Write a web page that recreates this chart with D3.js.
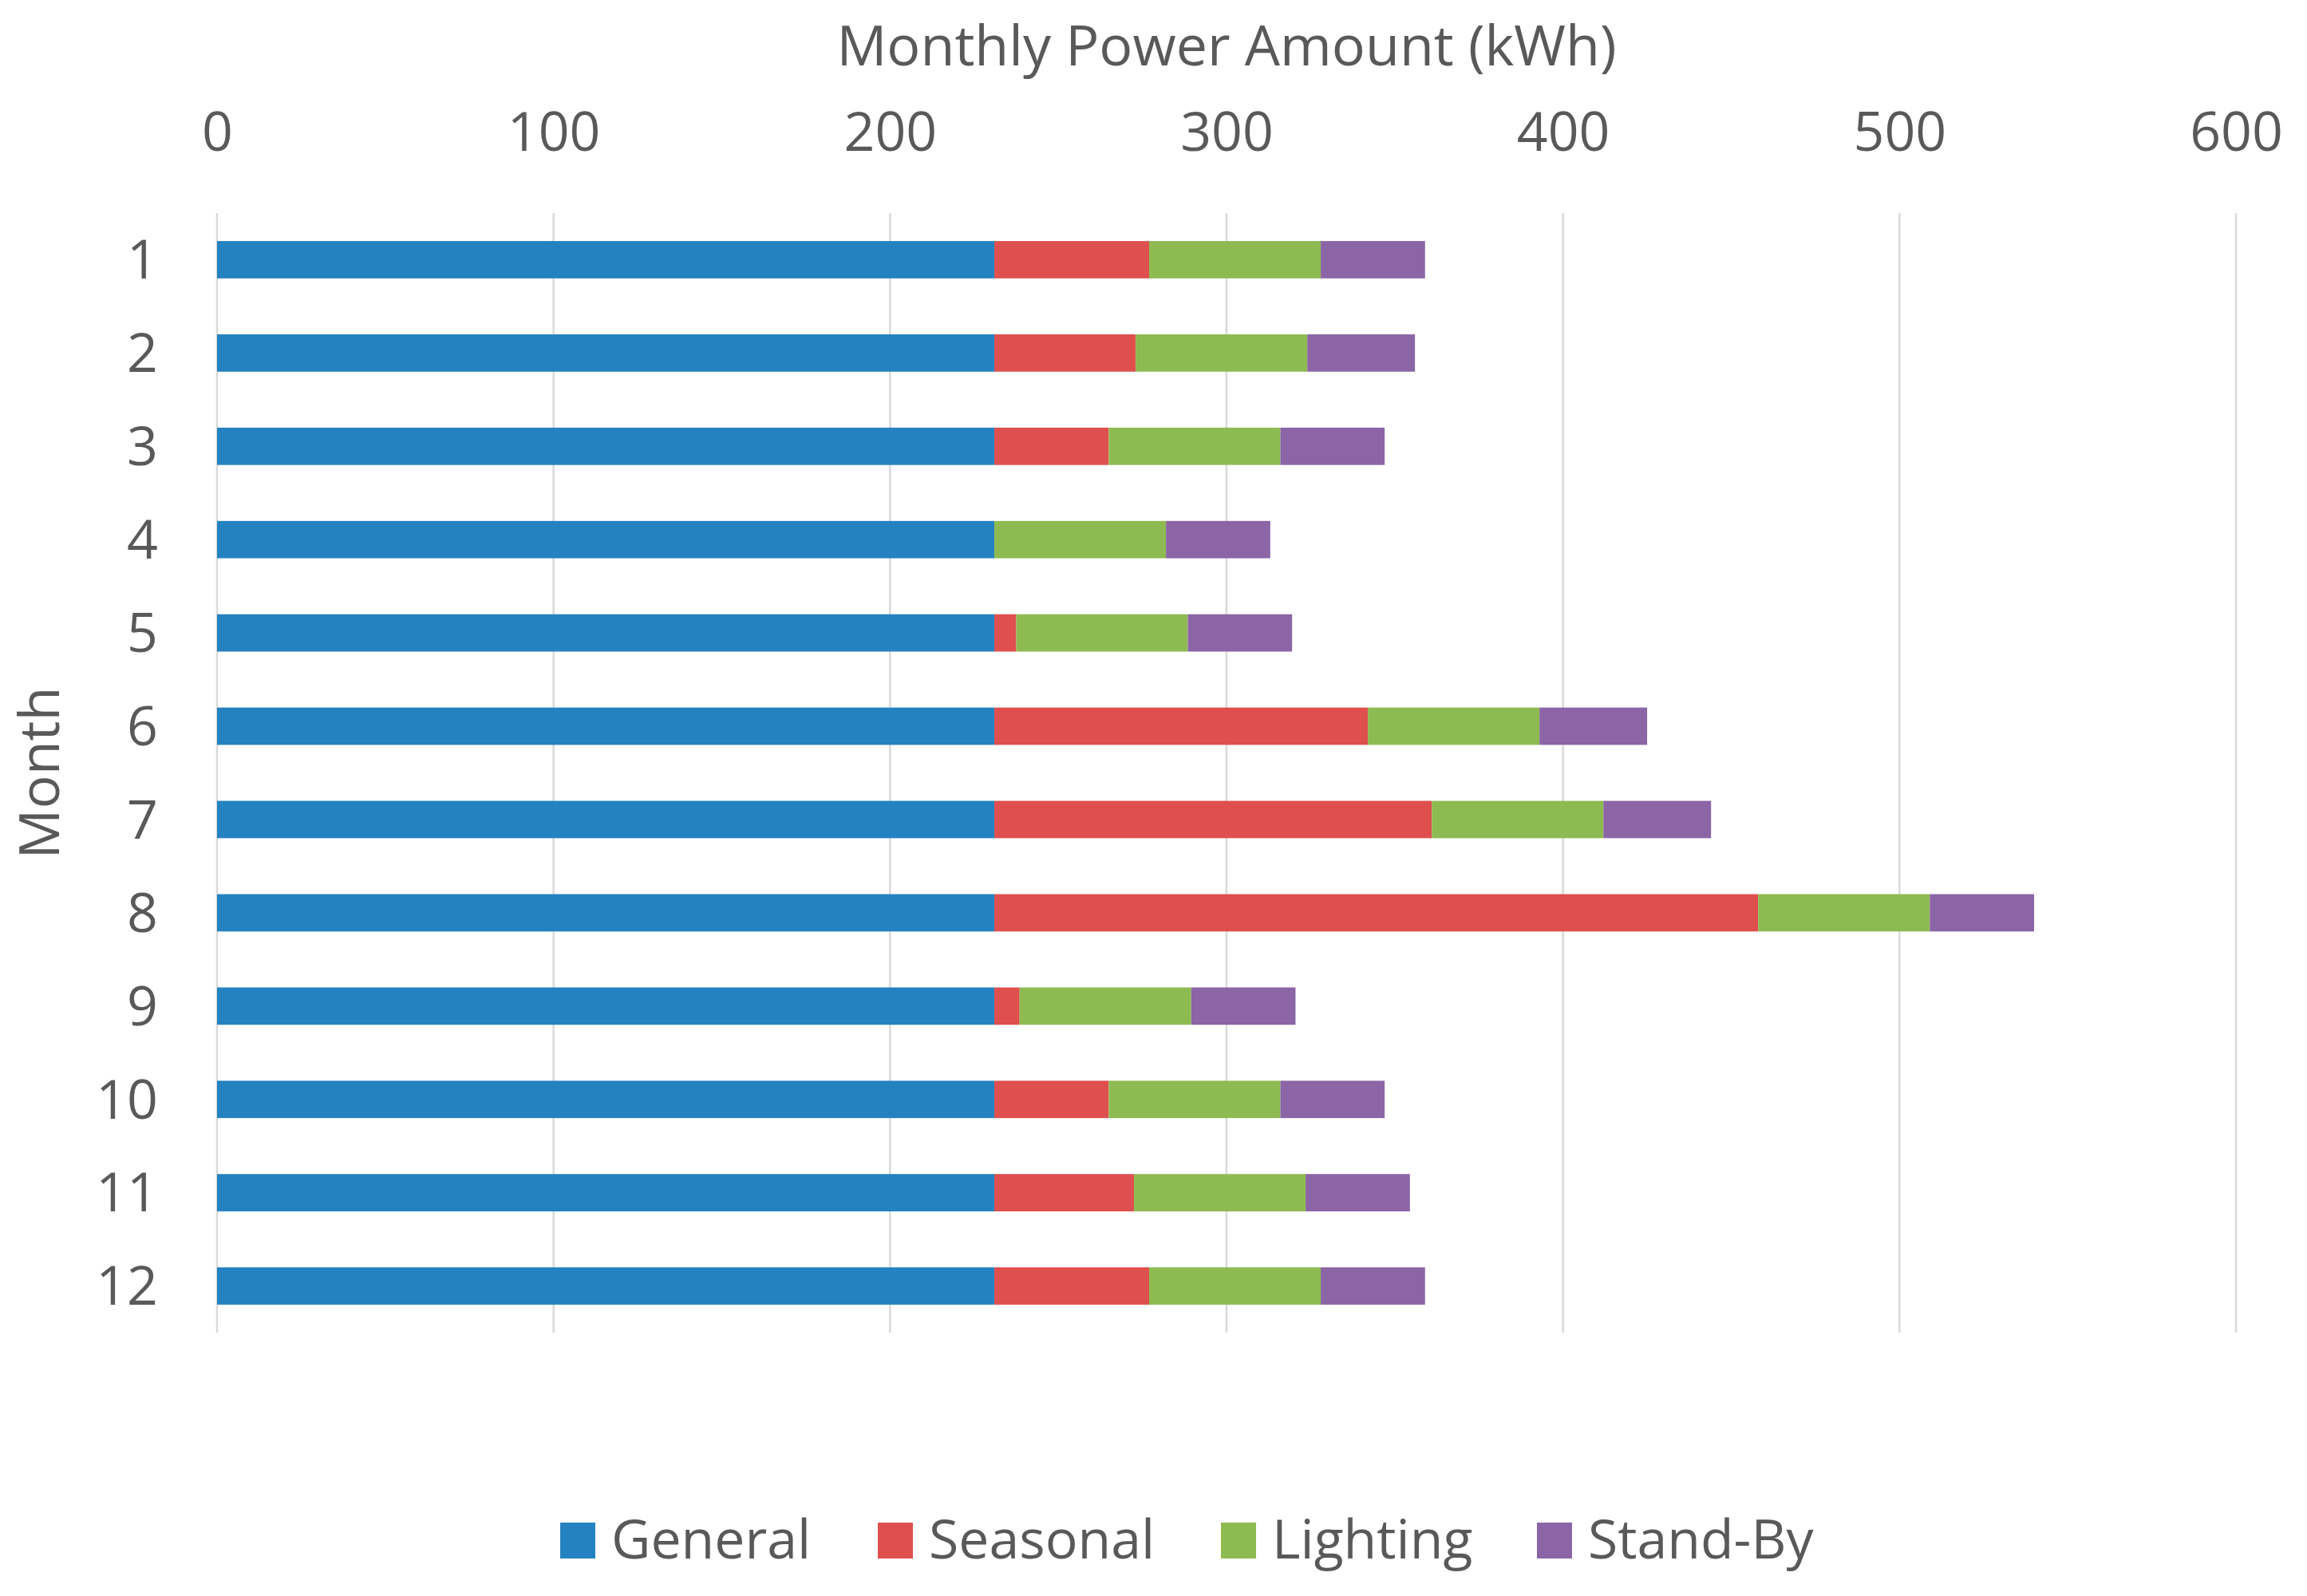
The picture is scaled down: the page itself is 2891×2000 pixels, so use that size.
<!DOCTYPE html>
<html>
<head>
<meta charset="utf-8">
<script src="https://cdn.jsdelivr.net/npm/d3@7"></script>
<style>
  body { margin: 0; background: #fff; }
  text { font-family: "Open Sans", "Noto Sans", sans-serif; fill: #595959; }
</style>
</head>
<body>
<svg id="chart" width="2891" height="2000"></svg>
<script>
// Data
const months = ["1", "2", "3", "4", "5", "6", "7", "8", "9", "10", "11", "12"];
const general  = [231, 231, 231, 231, 231, 231, 231, 231, 231, 231, 231, 231];
const seasonal = [46, 42, 34, 0, 6.5, 111, 130, 227, 7.5, 34, 41.5, 46];
const lighting = [51, 51, 51, 51, 51, 51, 51, 51, 51, 51, 51, 51];
const standBy  = [31, 32, 31, 31, 31, 32, 32, 31, 31, 31, 31, 31];
const seriesNames = ["General", "Seasonal", "Lighting", "Stand-By"];
const seriesColors = ["#2482C1", "#DE4F4E", "#8EBB51", "#8B65A5"];
const xTicks = [0, 100, 200, 300, 400, 500, 600];

const rows = months.map((m, i) => ({
    month: m,
    "General": general[i],
    "Seasonal": seasonal[i],
    "Lighting": lighting[i],
    "Stand-By": standBy[i]
}));

const margin = { top: 267, left: 272, right: 89, bottom: 330 };
const width = 2891, height = 2000;

const svg = d3.select("#chart");

const x = d3.scaleLinear()
    .domain([0, 600])
    .range([margin.left, width - margin.right]);

const y = d3.scaleBand()
    .domain(months)
    .range([margin.top, height - margin.bottom])
    .paddingInner(0.6)
    .paddingOuter(0.3);

// Gridlines
svg.append("g")
    .selectAll("line")
    .data(xTicks)
    .join("line")
    .attr("x1", d => x(d))
    .attr("x2", d => x(d))
    .attr("y1", margin.top)
    .attr("y2", height - margin.bottom)
    .attr("stroke", "#D9D9D9")
    .attr("stroke-width", 2.5);

// Stacked bars
const stack = d3.stack().keys(seriesNames);
const layers = stack(rows);

svg.append("g")
    .selectAll("g")
    .data(layers)
    .join("g")
    .attr("fill", (d, i) => seriesColors[i])
    .selectAll("rect")
    .data(d => d)
    .join("rect")
    .attr("x", d => x(d[0]))
    .attr("y", d => y(d.data.month))
    .attr("width", d => x(d[1]) - x(d[0]))
    .attr("height", y.bandwidth());

// Top x axis labels
const xAxis = d3.axisTop(x)
    .tickValues(xTicks)
    .tickSize(0)
    .tickPadding(0);

const gx = svg.append("g")
    .attr("transform", "translate(0,189)")
    .call(xAxis);
gx.select(".domain").remove();
gx.selectAll("text")
    .attr("y", 0)
    .attr("dy", 0)
    .style("font-size", "68px")
    .style("font-family", "'Open Sans', sans-serif")
    .attr("fill", "#595959");

// Left y axis labels
const yAxis = d3.axisLeft(y)
    .tickSize(0)
    .tickPadding(0);

const gy = svg.append("g")
    .attr("transform", "translate(198,0)")
    .call(yAxis);
gy.select(".domain").remove();
gy.selectAll("text")
    .attr("x", 0)
    .attr("dy", "0.35em")
    .style("font-size", "68px")
    .style("font-family", "'Open Sans', sans-serif")
    .attr("fill", "#595959");

// Axis titles
svg.append("text")
    .attr("x", (x(0) + x(600)) / 2)
    .attr("y", 82)
    .attr("text-anchor", "middle")
    .style("font-size", "70px")
    .text("Monthly Power Amount (kWh)");

svg.append("text")
    .attr("transform", "translate(74," + (margin.top + (height - margin.bottom - margin.top) / 2) + ") rotate(-90)")
    .attr("text-anchor", "middle")
    .style("font-size", "70px")
    .text("Month");

// Legend
const legendX = [702, 1100, 1530, 1926];
const legend = svg.append("g")
    .selectAll("g")
    .data(seriesNames)
    .join("g")
    .attr("transform", (d, i) => "translate(" + legendX[i] + ",1908)");

legend.append("rect")
    .attr("width", 44)
    .attr("height", 45)
    .attr("fill", (d, i) => seriesColors[i]);

legend.append("text")
    .attr("x", 64)
    .attr("y", 45)
    .style("font-size", "68px")
    .text(d => d);
</script>
</body>
</html>
